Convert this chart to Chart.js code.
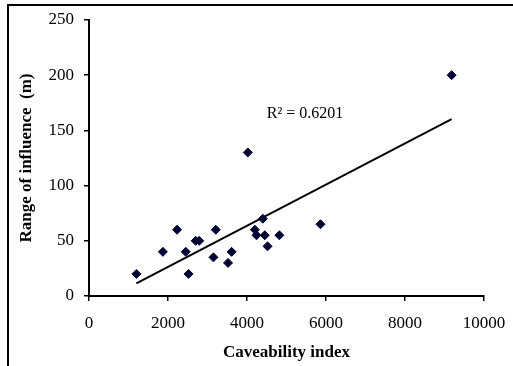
<!DOCTYPE html>
<html>
<head>
<meta charset="utf-8">
<script src="https://cdn.jsdelivr.net/npm/chart.js@4"></script>
<style>
  html, body { margin: 0; padding: 0; background: #fff; }
  #wrap { position: relative; width: 513px; height: 366px; overflow: hidden; }
  #frame { position: absolute; left: 7px; top: 4px; width: 600px; height: 400px; border-left: 2px solid #000; border-top: 2px solid #000; }
  #chart { position: absolute; left: 0; top: 0; }
</style>
</head>
<body>
<div id="wrap">
  <div id="frame"></div>
  <canvas id="chart" width="513" height="366"></canvas>
</div>
<script>
// Range of influence vs caveability index
const caveability = [1200, 1870, 2230, 2450, 2520, 2700, 2790, 3150, 3210, 3520,
                     3610, 4020, 4200, 4240, 4400, 4450, 4520, 4820, 5860, 9180];
const rangeOfInfluence = [20, 40, 60, 40, 20, 50, 50, 35, 60, 30,
                          40, 130, 60, 55, 70, 55, 45, 55, 65, 200];
const xTicks = [0, 2000, 4000, 6000, 8000, 10000];
const yTicks = [0, 50, 100, 150, 200, 250];
const rSquaredText = 'R\u00b2 = 0.6201';
const labelAt = { x: 4500, y: 165 };

// linear least squares fit for the trend line
function linearFit(xs, ys) {
    const n = xs.length;
    const mx = xs.reduce((a, b) => a + b, 0) / n;
    const my = ys.reduce((a, b) => a + b, 0) / n;
    let sxy = 0, sxx = 0;
    for (let i = 0; i < n; i++) {
        sxy += (xs[i] - mx) * (ys[i] - my);
        sxx += (xs[i] - mx) * (xs[i] - mx);
    }
    const slope = sxy / sxx;
    return { slope: slope, intercept: my - slope * mx };
}
const fit = linearFit(caveability, rangeOfInfluence);
const xMin = Math.min(...caveability), xMax = Math.max(...caveability);
const trend = [xMin, xMax].map(x => ({ x: x, y: fit.intercept + fit.slope * x }));

const serif = "'Liberation Serif', 'Times New Roman', serif";

const textPlugin = {
    id: 'r2label',
    afterDatasetsDraw(chart) {
        const ctx = chart.ctx;
        const xs = chart.scales.x, ys = chart.scales.y;
        ctx.save();
        ctx.font = '16px ' + serif;
        ctx.fillStyle = '#000';
        ctx.textBaseline = 'middle';
        ctx.textAlign = 'left';
        ctx.fillText(rSquaredText, xs.getPixelForValue(labelAt.x), ys.getPixelForValue(labelAt.y));
        ctx.restore();
    }
};

new Chart(document.getElementById('chart'), {
    type: 'scatter',
    data: {
        datasets: [
            {
                label: 'data',
                data: caveability.map((x, i) => ({ x: x, y: rangeOfInfluence[i] })),
                pointStyle: 'rectRot',
                pointRadius: 4.5,
                backgroundColor: '#000033',
                borderColor: '#000033',
                borderWidth: 1
            },
            {
                label: 'trend',
                type: 'line',
                data: trend,
                borderColor: '#000',
                borderWidth: 2,
                pointRadius: 0,
                fill: false
            }
        ]
    },
    options: {
        responsive: false,
        animation: false,
        layout: { padding: { left: 0, right: 29, top: 20, bottom: 0 } },
        plugins: { legend: { display: false }, tooltip: { enabled: false } },
        scales: {
            x: {
                type: 'linear',
                min: 0, max: 10000,
                afterBuildTicks: s => { s.ticks = xTicks.map(v => ({ value: v })); },
                afterFit: s => { s.height = 70; s.paddingLeft = 0; s.paddingRight = 0; },
                grid: { drawOnChartArea: false, drawTicks: true, tickLength: 5, color: '#000', lineWidth: 1.5 },
                border: { color: '#000', width: 2 },
                ticks: { color: '#000', font: { family: serif, size: 17 }, padding: 12, maxRotation: 0,
                         callback: v => String(v) },
                title: { display: true, text: 'Caveability index', color: '#000',
                         font: { family: serif, size: 17, weight: 'bold' }, padding: { top: 0, bottom: 3 } }
            },
            y: {
                min: 0, max: 250,
                afterBuildTicks: s => { s.ticks = yTicks.map(v => ({ value: v })); },
                afterFit: s => { s.width = 89; s.paddingTop = 0; s.paddingBottom = 0; },
                grid: { drawOnChartArea: false, drawTicks: true, tickLength: 5, color: '#000', lineWidth: 1.5 },
                border: { color: '#000', width: 2 },
                ticks: { color: '#000', font: { family: serif, size: 17 }, padding: 10,
                         callback: v => String(v) },
                title: { display: true, text: 'Range of influence  (m)', color: '#000',
                         font: { family: serif, size: 17, weight: 'bold' }, padding: { top: 16, bottom: 0 } }
            }
        }
    },
    plugins: [textPlugin]
});
</script>
</body>
</html>
